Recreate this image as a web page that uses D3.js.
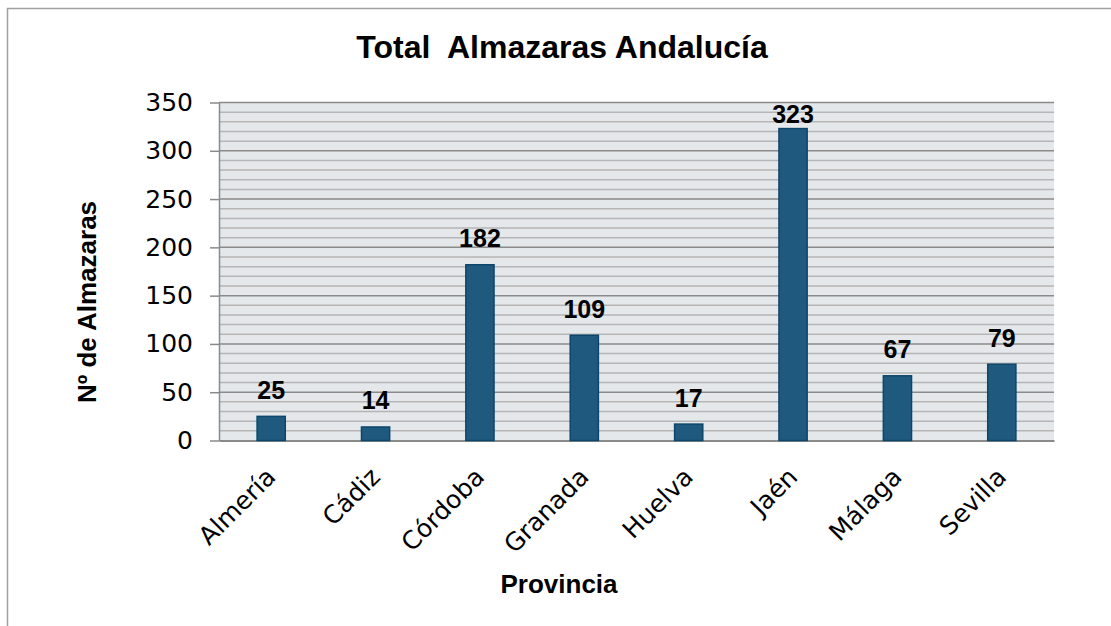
<!DOCTYPE html>
<html>
<head>
<meta charset="utf-8">
<script src="https://cdn.jsdelivr.net/npm/d3@7"></script>
<style>
  body { margin: 0; background: #fff; }
  svg { display: block; }
</style>
</head>
<body>
<svg id="chart" width="1111" height="626"></svg>
<script>
// data
var provincias = ["Almería", "Cádiz", "Córdoba", "Granada", "Huelva", "Jaén", "Málaga", "Sevilla"]
var almazaras = [25, 14, 182, 109, 17, 323, 67, 79]
var yTicks = [0, 50, 100, 150, 200, 250, 300, 350]
var minorStep = 10

var margin = { top: 102.5, left: 219, bottom: 185.5, right: 57 }
var svgWidth = 1111
var svgHeight = 626
var width = svgWidth - margin.left - margin.right
var height = svgHeight - margin.top - margin.bottom

var svg = d3.select("#chart")

// outer chart frame (only left and top edges show)
svg.append("path")
    .attr("d", "M7.5,626 V8.5 H1111")
    .attr("fill", "none")
    .attr("stroke", "#a0a0a0")
    .attr("stroke-width", 1.5)

svg.append("text")
    .attr("x", 562)
    .attr("y", 58)
    .attr("text-anchor", "middle")
    .style("font-family", "'Liberation Sans', Arial, sans-serif")
    .style("font-weight", "bold")
    .style("font-size", "32px")
    .style("white-space", "pre")
    .attr("xml:space", "preserve")
    .text("Total  Almazaras Andalucía")

var X_scale = d3.scaleBand().domain(provincias).range([0, width]).padding(0)
var Y_scale = d3.scaleLinear().domain([0, 350]).range([height, 0])

var g = svg.append("g")
    .attr("transform", `translate(${margin.left},${margin.top})`)

g.append("rect")
    .attr("width", width)
    .attr("height", height)
    .attr("fill", "#e5e8eb")

// minor gridlines
var minorVals = d3.range(minorStep, 350, minorStep).filter(function (d) { return d % 50 !== 0 })
g.selectAll(".minor")
    .data(minorVals)
    .join("line")
    .attr("class", "minor")
    .attr("x1", 0).attr("x2", width)
    .attr("y1", function (d) { return Y_scale(d) }).attr("y2", function (d) { return Y_scale(d) })
    .attr("stroke", "#b5b5b5")
    .attr("stroke-width", 1.5)

// major gridlines
g.selectAll(".major")
    .data(yTicks.slice(1))
    .join("line")
    .attr("class", "major")
    .attr("x1", 0).attr("x2", width)
    .attr("y1", function (d) { return Y_scale(d) }).attr("y2", function (d) { return Y_scale(d) })
    .attr("stroke", "#8a8a8a")
    .attr("stroke-width", 1.5)

// y axis
var yAxis = g.append("g")
    .call(d3.axisLeft(Y_scale).tickValues(yTicks).tickSize(9).tickSizeOuter(0).tickPadding(17))
yAxis.attr("font-family", "'DejaVu Sans'").attr("font-size", 25)
yAxis.select(".domain").attr("stroke", "#8a8a8a").attr("stroke-width", 1.5)
yAxis.selectAll(".tick line").attr("stroke", "#8a8a8a").attr("stroke-width", 1.5)
yAxis.selectAll(".tick text")
    .attr("fill", "#000")
    .style("font-family", "'DejaVu Sans'")
    .style("font-size", "25px")

// x axis
var xAxis = g.append("g")
    .attr("transform", `translate(0,${height})`)
    .call(d3.axisBottom(X_scale).tickSize(0).tickSizeOuter(0))
xAxis.attr("font-family", "'DejaVu Sans'").attr("font-size", 25)
xAxis.select(".domain").attr("stroke", "#8a8a8a").attr("stroke-width", 2)
xAxis.selectAll(".tick text")
    .attr("fill", "#000")
    .attr("text-anchor", "end")
    .attr("dy", null)
    .attr("y", 0)
    .attr("transform", "translate(6,38) rotate(-45)")
    .style("font-family", "'DejaVu Sans'")
    .style("font-size", "25px")

// bars
var barW = X_scale.bandwidth() * 0.27
g.selectAll(".bar")
    .data(almazaras)
    .join("rect")
    .attr("class", "bar")
    .attr("x", function (d, i) { return X_scale(provincias[i]) + (X_scale.bandwidth() - barW) / 2 })
    .attr("y", function (d) { return Y_scale(d) })
    .attr("width", barW)
    .attr("height", function (d) { return height - Y_scale(d) })
    .attr("fill", "#1f5a7e")
    .attr("stroke", "#0d466b")
    .attr("stroke-width", 1.5)

// data labels
g.selectAll(".lbl")
    .data(almazaras)
    .join("text")
    .attr("class", "lbl")
    .attr("x", function (d, i) { return X_scale(provincias[i]) + X_scale.bandwidth() / 2 })
    .attr("y", function (d) { return Math.max(Y_scale(d) - 17.5, 20.5) })
    .attr("text-anchor", "middle")
    .style("font-family", "'Liberation Sans', Arial, sans-serif")
    .style("font-weight", "bold")
    .style("font-size", "25px")
    .text(function (d) { return d })

// axis titles
svg.append("text")
    .attr("x", 559)
    .attr("y", 593)
    .attr("text-anchor", "middle")
    .style("font-family", "'Liberation Sans', Arial, sans-serif")
    .style("font-weight", "bold")
    .style("font-size", "26px")
    .text("Provincia")

svg.append("text")
    .attr("transform", "translate(96,302) rotate(-90)")
    .attr("text-anchor", "middle")
    .style("font-family", "'Liberation Sans', Arial, sans-serif")
    .style("font-weight", "bold")
    .style("font-size", "26px")
    .text("Nº de Almazaras")
</script>
</body>
</html>
